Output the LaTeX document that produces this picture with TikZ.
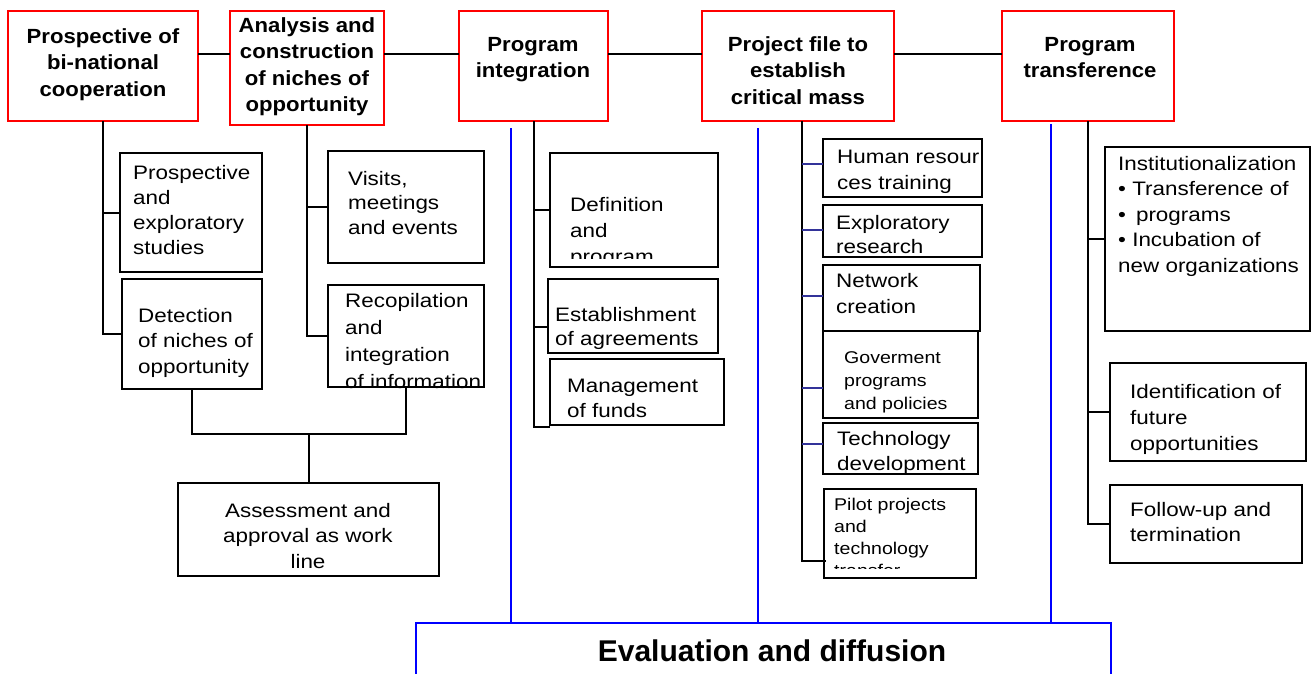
\documentclass[tikz,border=0pt]{standalone}
\usepackage{fontspec}
\setmainfont{Liberation Sans}
\newfontfamily\rgf[FakeStretch=1.15]{Liberation Sans}
\newfontfamily\bdf[FakeStretch=1.08]{Liberation Sans}
\usetikzlibrary{fit}
\definecolor{navy}{RGB}{51,51,153}
\newcommand\txl[3][19.5]{{\rgf\fontsize{#1}{#2}\selectfont\begin{tabular}[t]{@{}l@{}}#3\end{tabular}}}
\newcommand\txc[2]{{\rgf\fontsize{19.5}{#1}\selectfont\begin{tabular}[t]{@{}c@{}}#2\end{tabular}}}
\newcommand\txb[1]{{\bdf\bfseries\fontsize{20.5}{26.5}\selectfont\begin{tabular}[t]{@{}c@{}}#1\end{tabular}}}
\begin{document}
\begin{tikzpicture}[x=1pt,y=-1pt,
  redbox/.style={draw=red, line width=2pt, inner sep=0pt, outer sep=0pt},
  blkbox/.style={draw=black, line width=2pt, inner sep=0pt, outer sep=0pt},
  bluebox/.style={draw=blue, line width=2pt, inner sep=0pt, outer sep=0pt},
  conn/.style={draw=black, line width=2pt},
  bconn/.style={draw=blue, line width=2pt},
  nconn/.style={draw=navy, line width=1.4pt},
  txt/.style={inner sep=0pt, anchor=base west},
  ctxt/.style={inner sep=0pt, anchor=base}]
\clip (0,0) rectangle (1312,673);

% ---------- texts ----------
\node[ctxt] (t1) at (103,43) {\txb{Prospective of\\bi-national\\cooperation}};
\node[ctxt] (t2) at (307,32) {\txb{Analysis and\\construction\\of niches of\\opportunity}};
\node[ctxt] (t3) at (533,51) {\txb{Program\\integration}};
\node[ctxt] (t4) at (798,51) {\txb{Project file to\\establish\\critical mass}};
\node[ctxt] (t5) at (1090,51) {\txb{Program\\transference}};

\node[txt] (ts1) at (133,179) {\txl{25}{Prospective\\and\\exploratory\\studies}};
\node[txt] (td1) at (138,322) {\txl{25.7}{Detection\\of niches of\\opportunity}};
\node[txt] (tv1) at (348,185) {\txl{24.5}{Visits,\\meetings\\and events}};
\node[txt] (tr1) at (345,307) {\txl{27}{Recopilation\\and\\integration\\of information}};
\node[ctxt] (tas) at (308,517) {\txc{25.7}{Assessment and\\approval as work\\line}};

\begin{scope}
\clip (550,153) rectangle (718,258);
\node[txt] (tdf) at (570,211) {\txl{26}{Definition\\and\\program}};
\end{scope}
\node[txt] (tes) at (555,321) {\txl{24}{Establishment\\of agreements}};
\node[txt] (tmg) at (567,392) {\txl{25}{Management\\of funds}};

\begin{scope}
\clip (823,139) rectangle (980,197);
\node[txt] (thr) at (837,163) {\txl{26}{Human resour\\ces training}};
\end{scope}
\node[txt] (tex) at (836,229) {\txl{24}{Exploratory\\research}};
\node[txt] (tnw) at (836,287) {\txl{26}{Network\\creation}};
\node[txt] (tgv) at (844,363) {\txl[17]{23}{Goverment\\programs\\and policies}};
\begin{scope}
\clip (823,423) rectangle (978,472);
\node[txt] (ttc) at (837,445) {\txl{25}{Technology\\development}};
\end{scope}
\begin{scope}
\clip (824,489) rectangle (976,568);
\node[txt] (tpl) at (834,510) {\txl[17]{22}{Pilot projects\\and\\technology\\transfer}};
\end{scope}

\node[txt] (tin) at (1118,170) {\txl{25.5}{Institutionalization\\• Transference of\\•\hspace{10pt}programs\\• Incubation of\\new organizations}};
\node[txt] (tid) at (1130,398) {\txl{26}{Identification of\\future\\opportunities}};
\node[txt] (tfu) at (1130,516) {\txl{25.7}{Follow-up and\\termination}};

\node[ctxt] (tev) at (772,661) {\bfseries\fontsize{30}{36}\selectfont Evaluation and diffusion};

% ---------- boxes ----------
\node[redbox, fit={(8,11) (198,121)}] (p1) {};
\node[redbox, fit={(230,11) (384,125)}] (p2) {};
\node[redbox, fit={(459,11) (608,121)}] (p3) {};
\node[redbox, fit={(702,11) (894,121)}] (p4) {};
\node[redbox, fit={(1002,11) (1174,121)}] (p5) {};

\node[blkbox, fit={(120,153) (262,272)}] (s1) {};
\node[blkbox, fit={(122,279) (262,389)}] (d1) {};
\node[blkbox, fit={(328,151) (484,263)}] (v1) {};
\node[blkbox, fit={(328,285) (484,387)}] (r1) {};
\node[blkbox, fit={(178,483) (439,576)}] (asm) {};

\node[blkbox, fit={(550,153) (718,267)}] (df) {};
\node[blkbox, fit={(548,279) (718,353)}] (es) {};
\node[blkbox, fit={(550,359) (724,425)}] (mg) {};

\node[blkbox, fit={(823,139) (982,197)}] (hr) {};
\node[blkbox, fit={(823,205) (982,257)}] (ex) {};
\node[blkbox, fit={(823,265) (980,331)}] (nw) {};
\node[blkbox, fit={(823,331) (978,418)}] (gv) {};
\node[blkbox, fit={(823,423) (978,474)}] (tc) {};
\node[blkbox, fit={(824,489) (976,578)}] (pl) {};

\node[blkbox, fit={(1105,147) (1310,331)}] (inst) {};
\node[blkbox, fit={(1110,363) (1306,461)}] (id) {};
\node[blkbox, fit={(1110,485) (1302,563)}] (fu) {};

\node[bluebox, fit={(416,623) (1111,700)}] (ev) {};

% ---------- connectors ----------
\coordinate (h) at (0,54);
\draw[conn] (p1.east |- h) -- (p2.west |- h);
\draw[conn] (p2.east |- h) -- (p3.west |- h);
\draw[conn] (p3.east |- h) -- (p4.west |- h);
\draw[conn] (p4.east |- h) -- (p5.west |- h);

\draw[conn] (p1.south) -- (p1.south |- d1.west) -- (d1.west);
\draw[conn] (p1.south |- s1.west) -- (s1.west);
\draw[conn] (p2.south) -- (p2.south |- r1.west) -- (r1.west);
\draw[conn] (p2.south |- v1.west) -- (v1.west);

\coordinate (jy) at (0,434);
\coordinate (j) at (asm.north |- jy);
\draw[conn] (d1.south) |- (j) -| (r1.south);
\draw[conn] (j) -- (asm.north);

\coordinate (y327) at (0,327);
\coordinate (y427) at (0,427);
\draw[conn] (p3.south) -- (p3.south |- y427) -- (mg.west |- y427);
\draw[conn] (p3.south |- df.west) -- (df.west);
\draw[conn] (p3.south |- y327) -- (es.west |- y327);

\coordinate (s4) at (802,121);
\coordinate (y561) at (0,561);
\draw[conn] (s4) -- (s4 |- y561) -- ([xshift=2pt]pl.west |- y561);
\coordinate (y164) at (0,164);
\coordinate (y230) at (0,230);
\coordinate (y296) at (0,296);
\coordinate (y388) at (0,388);
\coordinate (y444) at (0,444);
\draw[nconn] (s4 |- y164) -- (hr.west |- y164);
\draw[nconn] (s4 |- y230) -- (ex.west |- y230);
\draw[nconn] (s4 |- y296) -- (nw.west |- y296);
\draw[nconn] (s4 |- y388) -- (gv.west |- y388);
\draw[nconn] (s4 |- y444) -- (tc.west |- y444);

\draw[conn] (p5.south) -- (p5.south |- fu.west) -- (fu.west);
\draw[conn] (p5.south |- inst.west) -- (inst.west);
\draw[conn] (p5.south |- id.west) -- (id.west);

\coordinate (b1) at (511,128);
\coordinate (b2) at (758,128);
\coordinate (b3) at (1051,124);
\draw[bconn] (b1) -- (b1 |- ev.north);
\draw[bconn] (b2) -- (b2 |- ev.north);
\draw[bconn] (b3) -- (b3 |- ev.north);
\end{tikzpicture}
\end{document}
